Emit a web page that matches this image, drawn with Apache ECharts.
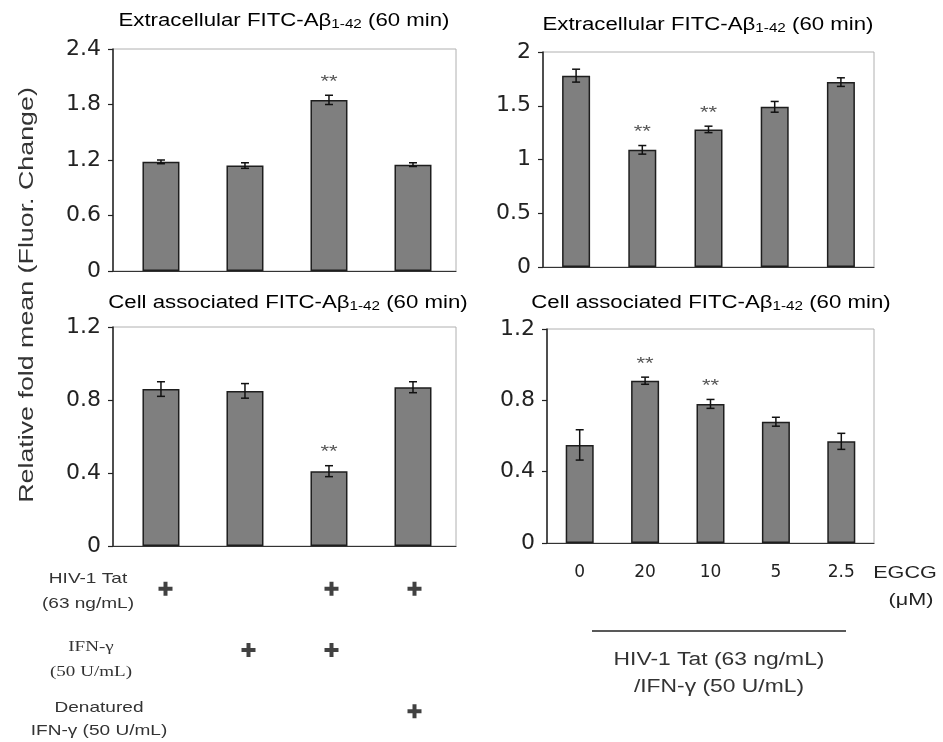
<!DOCTYPE html>
<html><head><meta charset="utf-8">
<script src="https://cdn.jsdelivr.net/npm/echarts@6/dist/echarts.min.js"></script>
<style>html,body{margin:0;padding:0;background:#fff}#c{width:943px;height:742px}</style>
</head><body><div id="c"></div>
<script>
// ---- data ----
const leftCats = ['Tat', 'IFN-γ', 'Tat + IFN-γ', 'Tat + Denatured IFN-γ'];
const egcgCats = ['0', '20', '10', '5', '2.5'];

const extraLeftMean = [1.18, 1.14, 1.85, 1.15];
const extraLeftErr  = [0.02, 0.03, 0.05, 0.02];
const extraLeftSig  = [0, 0, 1, 0];

const extraRightMean = [1.78, 1.09, 1.28, 1.49, 1.72];
const extraRightErr  = [0.06, 0.04, 0.03, 0.05, 0.04];
const extraRightSig  = [0, 1, 1, 0, 0];

const cellLeftMean = [0.86, 0.85, 0.41, 0.87];
const cellLeftErr  = [0.04, 0.04, 0.03, 0.03];
const cellLeftSig  = [0, 0, 1, 0];

const cellRightMean = [0.55, 0.91, 0.78, 0.68, 0.57];
const cellRightErr  = [0.085, 0.02, 0.025, 0.025, 0.045];
const cellRightSig  = [0, 1, 1, 0, 0];

const extraLeftTicks = [0, 0.6, 1.2, 1.8, 2.4];
const extraRightTicks = [0, 0.5, 1, 1.5, 2];
const cellTicks = [0, 0.4, 0.8, 1.2];

// treatment table (left)
const tatRow = [1, 0, 1, 1];
const ifnRow = [0, 1, 1, 0];
const denaturedRow = [0, 0, 0, 1];
const rowLabels = ['HIV-1 Tat\n(63 ng/mL)', 'IFN-γ\n(50 U/mL)', 'Denatured\nIFN-γ (50 U/mL)'];

// ---- chart ----
const FONT = '"Liberation Sans", Arial, sans-serif';
const TICKFONT = '"DejaVu Sans", sans-serif';
const SX = 1.27; // horizontal text stretch seen in the figure
const chart = echarts.init(document.getElementById('c'), null, {renderer: 'canvas'});

const grids = [
  {left: 113, top: 49, width: 343, height: 222},
  {left: 543, top: 52, width: 331, height: 215},
  {left: 113, top: 327, width: 343, height: 219},
  {left: 547, top: 329, width: 327, height: 214},
  {left: 124, top: 558, width: 332, height: 192}
].map(g => Object.assign({show: true, borderColor: '#b0b0b0', borderWidth: 1, backgroundColor: 'transparent', containLabel: false}, g));
grids[4].show = false;

// left panels: bar positions sit slightly off-centre in the figure, so use an index (value) axis
function xAxLeft(gi) {
  return {
    type: 'value', gridIndex: gi, min: -0.571, max: leftCats.length - 1 + 0.512,
    axisLine: {show: true, onZero: false, lineStyle: {color: '#333', width: 1.2}},
    axisTick: {show: false}, axisLabel: {show: false}, splitLine: {show: false}
  };
}
function xAx(gi, cats, showLabels) {
  return {
    type: 'category', gridIndex: gi, data: cats,
    axisLine: {show: gi !== 4, onZero: false, lineStyle: {color: '#333', width: 1.2}},
    axisTick: {show: false},
    axisLabel: {show: showLabels, color: '#222', fontSize: 17, fontFamily: TICKFONT, margin: 21},
    splitLine: {show: false}
  };
}
function yAx(gi, ticks) {
  const max = ticks[ticks.length - 1];
  return {
    type: 'value', gridIndex: gi, min: ticks[0], max: max, interval: ticks[1] - ticks[0],
    axisLine: {show: true, onZero: false, lineStyle: {color: '#222', width: 1.5}},
    axisTick: {show: true, length: 5, lineStyle: {color: '#222', width: 1.2}},
    axisLabel: {color: '#222', fontSize: 22, fontFamily: TICKFONT, margin: 12},
    splitLine: {show: false}
  };
}

function barSeries(gi, mean, width) {
  return {
    type: 'bar', xAxisIndex: gi, yAxisIndex: gi, data: mean.map((v, i) => [i, v]), barWidth: width,
    itemStyle: {color: '#7f7f7f', borderColor: '#1e1e1e', borderWidth: 1.5},
    silent: true, animation: false
  };
}
function errSeries(gi, mean, err, sig) {
  const data = mean.map((m, i) => [i, m, err[i], sig[i]]);
  return {
    type: 'custom', xAxisIndex: gi, yAxisIndex: gi, data: data, silent: true, animation: false, z: 5,
    renderItem: function (params, api) {
      const i = api.value(0), m = api.value(1), e = api.value(2), s = api.value(3);
      const top = api.coord([i, m + e]);
      const bot = api.coord([i, m - e]);
      const hw = 4;
      const st = {stroke: '#111', lineWidth: 1.5};
      const children = [
        {type: 'line', shape: {x1: top[0], y1: top[1], x2: bot[0], y2: bot[1]}, style: st},
        {type: 'line', shape: {x1: top[0] - hw, y1: top[1], x2: top[0] + hw, y2: top[1]}, style: st},
        {type: 'line', shape: {x1: bot[0] - hw, y1: bot[1], x2: bot[0] + hw, y2: bot[1]}, style: st}
      ];
      if (s) {
        children.push({type: 'text', x: top[0], y: top[1] - 13, scaleX: 1.3,
          style: {text: '**', fill: '#555', font: '17px ' + FONT, textAlign: 'center', textVerticalAlign: 'middle'}});
      }
      return {type: 'group', children: children};
    }
  };
}

const tableData = [];
[tatRow, ifnRow, denaturedRow].forEach((row, r) => row.forEach((v, i) => { if (v) tableData.push([i, r + 0.5]); }));

const richT = {
  n: {fontSize: 17.5, color: '#333', fontFamily: FONT},
  s: {fontSize: 12, color: '#333', fontFamily: FONT, padding: [8, 0, 0, 0]}
};
function titleG(text, cx, cy) {
  return {type: 'text', x: cx, y: cy, scaleX: SX,
    style: {text: text, rich: richT, textAlign: 'center', textVerticalAlign: 'middle'}};
}
function txt(text, cx, cy, size, extra) {
  return {type: 'text', x: cx, y: cy, scaleX: SX,
    style: Object.assign({text: text, font: size + 'px ' + FONT, fill: '#333', textAlign: 'center', textVerticalAlign: 'middle'}, extra || {})};
}

const option = {
  backgroundColor: '#fff',
  animation: false,
  grid: grids,
  xAxis: [xAxLeft(0), xAx(1, egcgCats, false), xAxLeft(2), xAx(3, egcgCats, true), xAx(4, leftCats, false)],
  yAxis: [yAx(0, extraLeftTicks), yAx(1, extraRightTicks), yAx(2, cellTicks), yAx(3, cellTicks),
    {type: 'value', gridIndex: 4, min: 0, max: 3, inverse: true, show: false}],
  series: [
    barSeries(0, extraLeftMean, 37), errSeries(0, extraLeftMean, extraLeftErr, extraLeftSig),
    barSeries(1, extraRightMean, 28), errSeries(1, extraRightMean, extraRightErr, extraRightSig),
    barSeries(2, cellLeftMean, 37), errSeries(2, cellLeftMean, cellLeftErr, cellLeftSig),
    barSeries(3, cellRightMean, 28), errSeries(3, cellRightMean, cellRightErr, cellRightSig),
    {type: 'scatter', xAxisIndex: 4, yAxisIndex: 4, data: tableData, silent: true,
      symbol: 'path://M5,0H9V5H14V9H9V14H5V9H0V5H5Z', symbolSize: 14, itemStyle: {color: '#111'}}
  ],
  graphic: [
    titleG('{n|Extracellular FITC-Aβ}{s|1-42}{n| (60 min)}', 284, 21),
    titleG('{n|Extracellular FITC-Aβ}{s|1-42}{n| (60 min)}', 708, 25),
    titleG('{n|Cell associated FITC-Aβ}{s|1-42}{n| (60 min)}', 288, 303),
    titleG('{n|Cell associated FITC-Aβ}{s|1-42}{n| (60 min)}', 711, 303),
    {type: 'text', x: 27, y: 295, rotation: Math.PI / 2, scaleX: 1.34,
      style: {text: 'Relative fold mean (Fluor. Change)', font: '20px ' + FONT, fill: '#333', textAlign: 'center', textVerticalAlign: 'middle'}},
    txt(rowLabels[0], 88, 591, 15, {lineHeight: 25}),
    txt(rowLabels[1], 91, 660, 15, {lineHeight: 25, font: '15px "Liberation Serif", "Times New Roman", serif'}),
    txt(rowLabels[2], 99, 719, 15, {lineHeight: 23}),
    txt('EGCG', 905, 573, 17, {fill: '#222'}),
    txt('(μM)', 911, 600, 17, {fill: '#222'}),
    {type: 'line', shape: {x1: 592, y1: 631, x2: 846, y2: 631}, style: {stroke: '#222', lineWidth: 1.5}},
    txt('HIV-1 Tat (63 ng/mL)\n/IFN-γ (50 U/mL)', 719, 674, 18, {lineHeight: 27})
  ]
};
chart.setOption(option);
</script></body></html>
